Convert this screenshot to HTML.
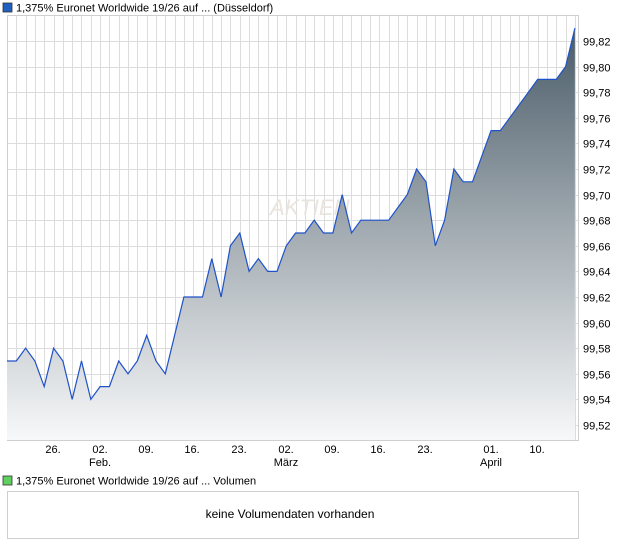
<!DOCTYPE html>
<html><head><meta charset="utf-8"><style>
body{margin:0;background:#fff;font-family:"Liberation Sans",sans-serif;}
</style></head><body>
<svg width="620" height="546" xmlns="http://www.w3.org/2000/svg" style="display:block">
<defs>
<linearGradient id="g" x1="0" y1="30" x2="0" y2="440" gradientUnits="userSpaceOnUse">
<stop offset="0" stop-color="#4a5c69"/><stop offset="0.5" stop-color="#a4adb3"/><stop offset="1" stop-color="#f7f8f9"/>
</linearGradient>
</defs>
<rect x="3" y="3" width="9" height="9" fill="#1f5fbf" stroke="#333" stroke-width="0.8"/>
<text x="16" y="11.5" font-size="11" fill="#000">1,375% Euronet Worldwide 19/26 auf ... (Düsseldorf)</text>
<g id="grid" stroke="#dcdcdc" stroke-width="1"></g>
<rect x="7.5" y="15.5" width="571" height="425" fill="none" stroke="#cfcfcf"/>
<text x="270" y="215" font-size="22" fill="#e9e4de" font-style="italic" font-family="Liberation Sans">AKTIEN</text>
<path id="area" fill="url(#g)"/>
<polyline id="line" fill="none" stroke="#1f52c8" stroke-width="1.2"/>
<g font-size="11" fill="#000" id="ylab"></g>
<g font-size="11" fill="#000" text-anchor="middle">
<text x="53" y="453">26.</text><text x="100" y="453">02.</text><text x="100" y="466">Feb.</text>
<text x="146" y="453">09.</text><text x="192" y="453">16.</text><text x="239" y="453">23.</text>
<text x="286" y="453">02.</text><text x="286" y="466">März</text>
<text x="332" y="453">09.</text><text x="378" y="453">16.</text><text x="425" y="453">23.</text>
<text x="491" y="453">01.</text><text x="491" y="466">April</text><text x="537" y="453">10.</text>
</g>
<rect x="3" y="476" width="9" height="9" fill="#5fcf5f" stroke="#333" stroke-width="0.8"/>
<text x="16" y="484.5" font-size="11" fill="#000">1,375% Euronet Worldwide 19/26 auf ... Volumen</text>
<rect x="7.5" y="491.5" width="571" height="47" fill="none" stroke="#cfcfcf"/>
<text x="290" y="518" font-size="12" fill="#000" text-anchor="middle">keine Volumendaten vorhanden</text>
</svg>
<script>
var v=[57,57,58,57,55,58,57,54,57,54,55,55,57,56,57,59,57,56,59,62,62,62,65,62,66,67,64,65,64,64,66,67,67,68,67,67,70,67,68,68,68,68,69,70,72,71,66,68,72,71,71,73,75,75,76,77,78,79,79,79,80,83];
var ns="http://www.w3.org/2000/svg";
function X(i){return 7+i*9.31;}
function Y(c){return 41+(82-c)*12.8;}
var g=document.getElementById('grid');
for(var i=0;i<62;i++){var l=document.createElementNS(ns,'line');var x=Math.round(X(i))+0.5;l.setAttribute('x1',x);l.setAttribute('x2',x);l.setAttribute('y1',15);l.setAttribute('y2',440);g.appendChild(l);}
var yl=document.getElementById('ylab');
for(var c=52;c<=82;c+=2){var y=Math.round(Y(c))+0.5;var l=document.createElementNS(ns,'line');l.setAttribute('x1',7);l.setAttribute('x2',578);l.setAttribute('y1',y);l.setAttribute('y2',y);g.appendChild(l);
var t=document.createElementNS(ns,'text');t.setAttribute('x',583);t.setAttribute('y',y+4);t.textContent='99,'+c;yl.appendChild(t);}
var pts=v.map(function(c,i){return X(i).toFixed(1)+','+Y(c).toFixed(1);});
document.getElementById('line').setAttribute('points',pts.join(' '));
document.getElementById('area').setAttribute('d','M'+pts.join(' L')+' L'+X(61).toFixed(1)+',440 L7,440 Z');
</script>
</body></html>
